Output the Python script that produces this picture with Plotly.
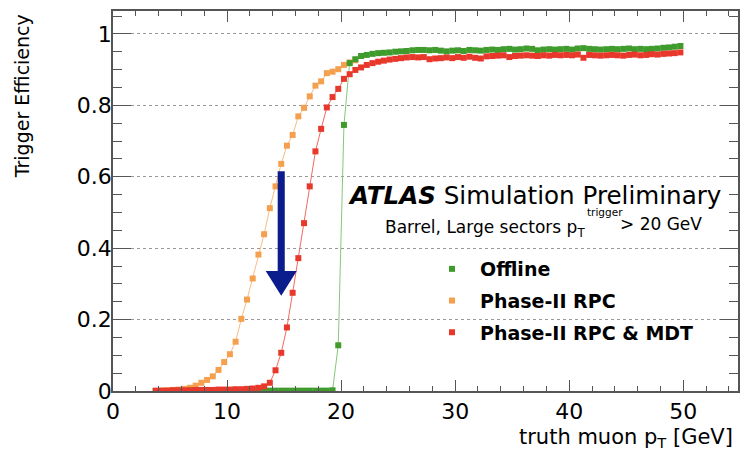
import plotly.graph_objects as go

# ---------------- data ----------------
PT_BINS = [3.75, 4.25, 4.75, 5.25, 5.75, 6.25, 6.75, 7.25, 7.75, 8.25,
           8.75, 9.25, 9.75, 10.25, 10.75, 11.25, 11.75, 12.25, 12.75, 13.25,
           13.75, 14.25, 14.75, 15.25, 15.75, 16.25, 16.75, 17.25, 17.75, 18.25,
           18.75, 19.25, 19.75, 20.25, 20.75, 21.25, 21.75, 22.25, 22.75, 23.25,
           23.75, 24.25, 24.75, 25.25, 25.75, 26.25, 26.75, 27.25, 27.75, 28.25,
           28.75, 29.25, 29.75, 30.25, 30.75, 31.25, 31.75, 32.25, 32.75, 33.25,
           33.75, 34.25, 34.75, 35.25, 35.75, 36.25, 36.75, 37.25, 37.75, 38.25,
           38.75, 39.25, 39.75, 40.25, 40.75, 41.25, 41.75, 42.25, 42.75, 43.25,
           43.75, 44.25, 44.75, 45.25, 45.75, 46.25, 46.75, 47.25, 47.75, 48.25,
           48.75, 49.25, 49.75]

OFFLINE_EFF = [0.000, 0.000, 0.000, 0.000, 0.001, 0.000, 0.001, 0.000, 0.001, 0.001,
               0.000, 0.001, 0.001, 0.001, 0.000, 0.001, 0.001, 0.001, 0.001, 0.001,
               0.001, 0.001, 0.001, 0.001, 0.001, 0.001, 0.001, 0.001, 0.001, 0.001,
               0.001, 0.002, 0.128, 0.745, 0.918, 0.929,
               0.938, 0.941, 0.944, 0.946, 0.947, 0.948, 0.950, 0.951, 0.952, 0.954,
               0.955, 0.955, 0.954, 0.955, 0.953, 0.951, 0.953, 0.954, 0.952, 0.955,
               0.954, 0.953, 0.955, 0.956, 0.955, 0.957, 0.958, 0.956, 0.957, 0.959,
               0.958, 0.954, 0.956, 0.957, 0.956, 0.957, 0.958, 0.956, 0.959, 0.960,
               0.958, 0.957, 0.956, 0.957, 0.958, 0.957, 0.958, 0.959, 0.957, 0.958,
               0.957, 0.958, 0.959, 0.961, 0.962, 0.964, 0.966]

RPC_EFF = [0.000, 0.001, 0.002, 0.003, 0.004, 0.006, 0.009, 0.015, 0.023, 0.031,
           0.041, 0.059, 0.081, 0.103, 0.138, 0.202, 0.256, 0.315, 0.382, 0.439,
           0.512, 0.573, 0.636, 0.687, 0.717, 0.769, 0.793, 0.825, 0.855, 0.867,
           0.890, 0.894, 0.901, 0.913, 0.920, 0.926]

RPC_MDT_EFF = [0.001, 0.001, 0.001, 0.002, 0.002, 0.002, 0.002, 0.003, 0.003, 0.003,
               0.003, 0.004, 0.004, 0.004, 0.005, 0.005, 0.006, 0.007, 0.009, 0.013,
               0.023, 0.058, 0.107, 0.178, 0.275, 0.372, 0.470, 0.573, 0.671, 0.734,
               0.794, 0.823, 0.846, 0.874, 0.887, 0.899,
               0.906, 0.913, 0.918, 0.922, 0.925, 0.928, 0.930, 0.932, 0.934, 0.935,
               0.934, 0.935, 0.929, 0.931, 0.932, 0.934, 0.932, 0.935, 0.933, 0.936,
               0.933, 0.931, 0.937, 0.938, 0.939, 0.940, 0.935, 0.938, 0.939, 0.940,
               0.939, 0.938, 0.940, 0.939, 0.941, 0.940, 0.941, 0.940, 0.942, 0.933,
               0.941, 0.940, 0.939, 0.940, 0.941, 0.940, 0.939, 0.941, 0.942, 0.940,
               0.941, 0.943, 0.942, 0.944, 0.945, 0.946, 0.948]

SERIES_NAMES = ["Offline", "Phase-II RPC", "Phase-II RPC & MDT"]
X_TICKS = [0, 10, 20, 30, 40, 50]
Y_TICKS = [0, 0.2, 0.4, 0.6, 0.8, 1.0]
Y_TICK_TEXT = ["0", "0.2", "0.4", "0.6", "0.8", "1"]

# ---------------- style ----------------
W, H = 740, 458
ML, MR, MT, MB = 113, 0, 11, 67
FONT = "DejaVu Sans"
GREEN, ORANGE, RED = "#3e9b2c", "#f4a04e", "#e8372b"
GREEN_L, ORANGE_L, RED_L = "#86c77a", "#f7bd85", "#ef6b60"
BLUE = "#0b1c8c"
AXC = "#555555"


def pxx(p):
    return (p - ML) / (W - ML - MR)


def pxy(p):
    return (H - MB - p) / (H - MT - MB)


fig = go.Figure()

# draw order: orange, green, red (red on top)
series = [
    (PT_BINS[:len(RPC_EFF)], RPC_EFF, ORANGE, ORANGE_L),
    (PT_BINS, OFFLINE_EFF, GREEN, GREEN_L),
    (PT_BINS, RPC_MDT_EFF, RED, RED_L),
]
for xs, ys, c, cl in series:
    fig.add_trace(go.Scatter(
        x=xs, y=ys, mode="lines+markers",
        line=dict(color=cl, width=1),
        marker=dict(symbol="square", size=6, color=c, line=dict(width=0)),
        showlegend=False, hoverinfo="skip"))

# legend entries (marker only)
for i, (name, c) in enumerate(zip(SERIES_NAMES, [GREEN, ORANGE, RED])):
    fig.add_trace(go.Scatter(
        x=[None], y=[None], mode="markers", name="<b>" + name + "</b>",
        marker=dict(symbol="square", size=6, color=c),
        legendgroup="g%d" % i, showlegend=True))

# blue arrow
AX_C, AX_HW, HEAD_HW = 14.75, 0.31, 1.36
AX_TOP, HEAD_BASE, TIP = 0.615, 0.336, 0.267
path = ("M {l},{t} L {r},{t} L {r},{b} L {hr},{b} L {c},{tip} L {hl},{b} L {l},{b} Z"
        .format(l=AX_C - AX_HW, r=AX_C + AX_HW, t=AX_TOP, b=HEAD_BASE,
                hl=AX_C - HEAD_HW, hr=AX_C + HEAD_HW, c=AX_C, tip=TIP))
fig.add_shape(type="path", path=path, xref="x", yref="y",
              fillcolor=BLUE, line=dict(width=0), layer="above")

ann = [
    dict(text="<b><i>ATLAS</i></b> Simulation Preliminary", x=pxx(347), y=pxy(196),
         xanchor="left", yanchor="middle", font=dict(size=24.6, color="black")),
    dict(text="Barrel, Large sectors p<sub>T</sub>", x=pxx(589), y=pxy(228),
         xanchor="right", yanchor="middle", font=dict(size=17, color="black")),
    dict(text="trigger", x=pxx(587), y=pxy(212),
         xanchor="left", yanchor="middle", font=dict(size=10.5, color="black")),
    dict(text="> 20 GeV", x=pxx(620), y=pxy(224),
         xanchor="left", yanchor="middle", font=dict(size=17, color="black")),
    dict(text="Trigger Efficiency", x=pxx(22), y=pxy(12), textangle=-90,
         xanchor="center", yanchor="top", font=dict(size=19, color="black")),
    dict(text="truth muon p<sub>T</sub> [GeV]", x=pxx(737), y=pxy(438),
         xanchor="right", yanchor="middle", font=dict(size=21, color="black")),
]
for a in ann:
    a.update(xref="paper", yref="paper", showarrow=False)
    fig.add_annotation(**a)

fig.update_layout(
    width=W, height=H,
    margin=dict(l=ML, r=MR, t=MT, b=MB, pad=0),
    paper_bgcolor="white", plot_bgcolor="white",
    font=dict(family=FONT, color="black"),
    showlegend=True,
    legend=dict(x=pxx(425), y=pxy(250), xanchor="left", yanchor="top",
                bgcolor="rgba(0,0,0,0)", font=dict(size=19, family=FONT, color="black"),
                tracegroupgap=4, itemwidth=46, traceorder="grouped"),
    xaxis=dict(range=[0, 54.8], tickvals=X_TICKS, ticks="inside", ticklen=11,
               tickcolor=AXC, tickwidth=1, showline=True, linecolor=AXC, linewidth=1.5,
               mirror="ticks", showgrid=False, zeroline=False,
               tickfont=dict(size=22, color="black"),
               minor=dict(dtick=2, tick0=0, ticks="inside", ticklen=5,
                          tickcolor=AXC, showgrid=False)),
    yaxis=dict(range=[0, 1.064], tickvals=Y_TICKS, ticktext=Y_TICK_TEXT,
               ticks="inside", ticklen=18, tickcolor=AXC, tickwidth=1,
               showline=True, linecolor=AXC, linewidth=1.5, mirror="ticks",
               showgrid=True, gridcolor="#999999", griddash="dot", gridwidth=1,
               zeroline=False, tickfont=dict(size=22, color="black"),
               ticklabelstandoff=-5,
               minor=dict(dtick=0.05, tick0=0, ticks="inside", ticklen=9,
                          tickcolor=AXC, showgrid=False)),
)

fig.write_html("out.html", config={"displayModeBar": False},
               post_script="document.body.style.margin='0';document.body.style.padding='0';")
